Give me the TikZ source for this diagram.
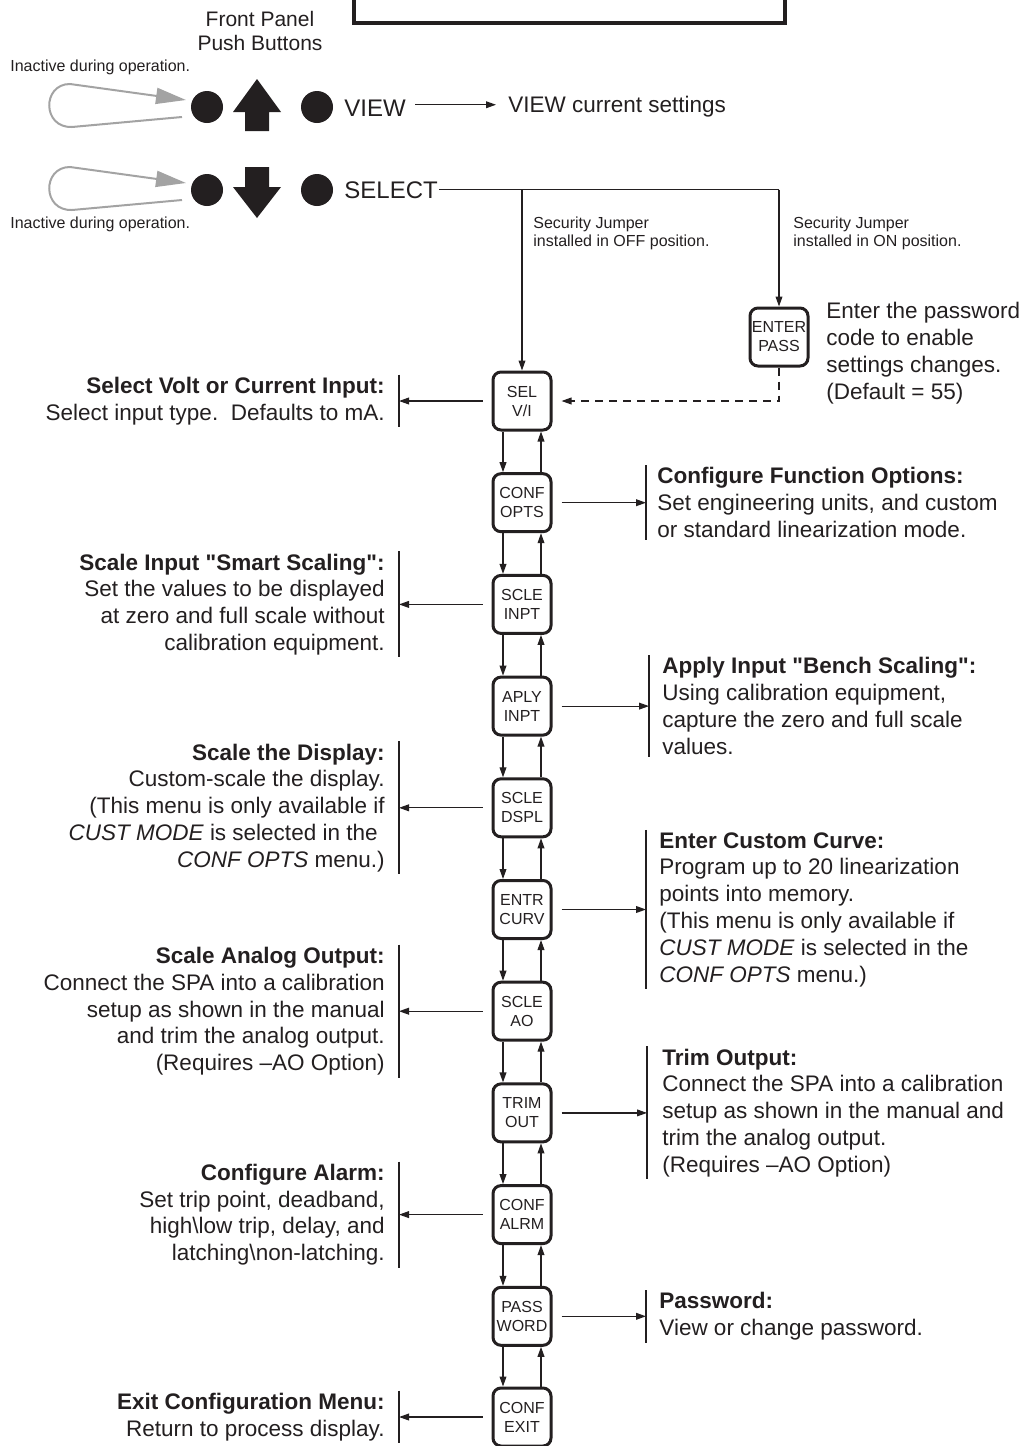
\documentclass[tikz,border=0pt]{standalone}
\usepackage{fontspec}
\setmainfont{Liberation Sans}[Ligatures=TeXOff]
\usetikzlibrary{arrows.meta,calc}
\definecolor{loopgrey}{HTML}{A3A3A3}
\definecolor{ink}{HTML}{231F20}
\begin{document}
\begin{tikzpicture}[x=0.5pt,y=-0.5pt,
  every node/.style={text=ink},
  menubox/.style={draw=ink, line width=1.5pt, rounded corners=4pt, minimum width=29pt, minimum height=29pt, inner sep=0pt, align=center, font=\fontsize{8}{9.5}\selectfont},
  arr/.style={draw=ink, line width=0.6pt, -{Triangle[length=5pt,width=3.4pt]}},
  conn/.style={draw=ink, line width=0.6pt},
  brk/.style={draw=ink, line width=0.75pt},
  desc/.style={inner sep=0pt, font=\fontsize{11.25}{13.4}\selectfont},
  lefttext/.style={desc, anchor=east, align=right},
  righttext/.style={desc, anchor=west, align=left},
  smalltext/.style={inner sep=0pt, font=\fontsize{8}{8.6}\selectfont, align=left},
  bigtext/.style={inner sep=0pt, font=\fontsize{12}{14}\selectfont},
  titletext/.style={inner sep=0pt, font=\fontsize{10.5}{12.3}\selectfont, align=center},
  greyloop/.style={draw=loopgrey, line width=1pt, -{Triangle[length=15pt,width=8pt]}},
  btndot/.style={circle, fill=ink, inner sep=0pt, minimum size=16pt}
]
\useasboundingbox (0,0) rectangle (1024,1446);

% display outline (top, cut off)
\draw[line width=1.6pt, draw=ink] (354,-8) -- (354,23) -- (785,23) -- (785,-8);

% title and notes
\node[titletext] (fp) at (260,31) {Front Panel\\Push Buttons};
\node[smalltext, anchor=west] (ina1) at (10,67.5) {Inactive during operation.};
\node[smalltext, anchor=west] (ina2) at (10,224) {Inactive during operation.};

% grey loops
\draw[greyloop] (182,117) -- (72,127) .. controls (42,128) and (42,84) .. (70,84) -- (186,100);
\draw[greyloop] (182,200) -- (72,210) .. controls (42,211) and (42,167) .. (70,167) -- (186,183);

% push buttons
\node[btndot] (d1) at (207,107) {};
\node[btndot] (d2) at (317,107) {};
\node[btndot] (d3) at (207,190) {};
\node[btndot] (d4) at (317,190) {};
\fill[ink] (257,79) -- (281,112) -- (269,112) -- (269,131) -- (245,131) -- (245,112) -- (233,112) -- cycle;
\fill[ink] (257,218) -- (281,187) -- (269,187) -- (269,167) -- (245,167) -- (245,187) -- (233,187) -- cycle;

\node[bigtext, anchor=base west] (view) at (344,116) {VIEW};
\node[bigtext, anchor=base west] (select) at (344,198) {SELECT};
\node[desc, anchor=base west] (viewcur) at (508,112) {VIEW current settings};
\draw[arr] ($(view.east)+(9,-3)$) coordinate (va) -- ($(va -| viewcur.west)+(-12,0)$);

% menu boxes
\node[menubox] (ep) at (779,337) {ENTER\\PASS};
\node[menubox] (b1) at (522,401) {SEL\\V/I};
\node[menubox] (b2) at (522,502.7) {CONF\\OPTS};
\node[menubox] (b3) at (522,604.4) {SCLE\\INPT};
\node[menubox] (b4) at (522,706.1) {APLY\\INPT};
\node[menubox] (b5) at (522,807.8) {SCLE\\DSPL};
\node[menubox] (b6) at (522,909.5) {ENTR\\CURV};
\node[menubox] (b7) at (522,1011.2) {SCLE\\AO};
\node[menubox] (b8) at (522,1112.9) {TRIM\\OUT};
\node[menubox] (b9) at (522,1214.6) {CONF\\ALRM};
\node[menubox] (b10) at (522,1316.3) {PASS\\WORD};
\node[menubox] (b11) at (522,1417) {CONF\\EXIT};

% select branches
\draw[conn] ($(select.east)+(1,0)$) -- (select.east -| ep.north);
\draw[arr] (select.east -| b1.north) -- (b1.north);
\draw[arr] (select.east -| ep.north) -- (ep.north);
\node[smalltext, anchor=north west] (offl) at (533,217) {Security Jumper\\installed in OFF position.};
\node[smalltext, anchor=north west] (onl) at (793,217) {Security Jumper\\installed in ON position.};
\node[desc, anchor=west, align=left] (eptxt) at (826,353) {Enter the password\\code to enable\\settings changes.\\(Default = 55)};
\draw[arr, dash pattern=on 4pt off 3pt] (ep.south) |- ($(b1.east)+(9,0)$);

% vertical navigation arrows
\foreach \u/\l in {b1/b2,b2/b3,b3/b4,b4/b5,b5/b6,b6/b7,b7/b8,b8/b9,b9/b10,b10/b11}{
  \draw[arr] ([xshift=-9.5pt]\u.south) -- ([xshift=-9.5pt]\l.north);
  \draw[arr] ([xshift=9.5pt]\l.north) -- ([xshift=9.5pt]\u.south);
}

% left descriptions
\node[lefttext] (L1) at (385,401) {\textbf{Select Volt or Current Input:}\\Select input type.\ \ Defaults to mA.};
\node[lefttext] (L2) at (385,604.4) {\textbf{Scale Input "Smart Scaling":}\\Set the values to be displayed\\at zero and full scale without\\calibration equipment.};
\node[lefttext] (L3) at (385,807.8) {\textbf{Scale the Display:}\\Custom-scale the display.\\(This menu is only available if\\\textit{CUST MODE} is selected in the\kern3.5pt\\\textit{CONF OPTS} menu.)};
\node[lefttext] (L4) at (385,1011.2) {\textbf{Scale Analog Output:}\\Connect the SPA into a calibration\\setup as shown in the manual\\and trim the analog output.\\(Requires \textendash AO Option)};
\node[lefttext] (L5) at (385,1214.6) {\textbf{Configure Alarm:}\\Set trip point, deadband,\\high\textbackslash low trip, delay, and\\latching\textbackslash non-latching.};
\node[lefttext] (L6) at (385,1417) {\textbf{Exit Configuration Menu:}\\Return to process display.};

\foreach \b/\t in {b1/L1,b3/L2,b5/L3,b7/L4,b9/L5,b11/L6}{
  \draw[brk] ($(\t.north east)+(14,-2)$) -- ($(\t.south east)+(14,2)$);
  \draw[arr] ($(\b.west)+(-9,0)$) -- ($(\t.east)+(14,0)$);
}

% right descriptions
\node[righttext] (R1) at (657,502.7) {\textbf{Configure Function Options:}\\Set engineering units, and custom\\or standard linearization mode.};
\node[righttext] (R2) at (662,706.1) {\textbf{Apply Input "Bench Scaling":}\\Using calibration equipment,\\capture the zero and full scale\\values.};
\node[righttext] (R3) at (659,909.5) {\textbf{Enter Custom Curve:}\\Program up to 20 linearization\\points into memory.\\(This menu is only available if\\\textit{CUST MODE} is selected in the\\\textit{CONF OPTS} menu.)};
\node[righttext] (R4) at (662,1112.9) {\textbf{Trim Output:}\\Connect the SPA into a calibration\\setup as shown in the manual and\\trim the analog output.\\(Requires \textendash AO Option)};
\node[righttext] (R5) at (659,1316.3) {\textbf{Password:}\\View or change password.};

\foreach \b/\t/\s in {b2/R1/11,b4/R2/13,b6/R3/13,b8/R4/15,b10/R5/13}{
  \draw[brk] ($(\t.north west)+(-\s,-2)$) -- ($(\t.south west)+(-\s,2)$);
  \draw[arr] ($(\b.east)+(9,0)$) -- ($(\t.west)+(-\s,0)$);
}
\end{tikzpicture}
\end{document}
